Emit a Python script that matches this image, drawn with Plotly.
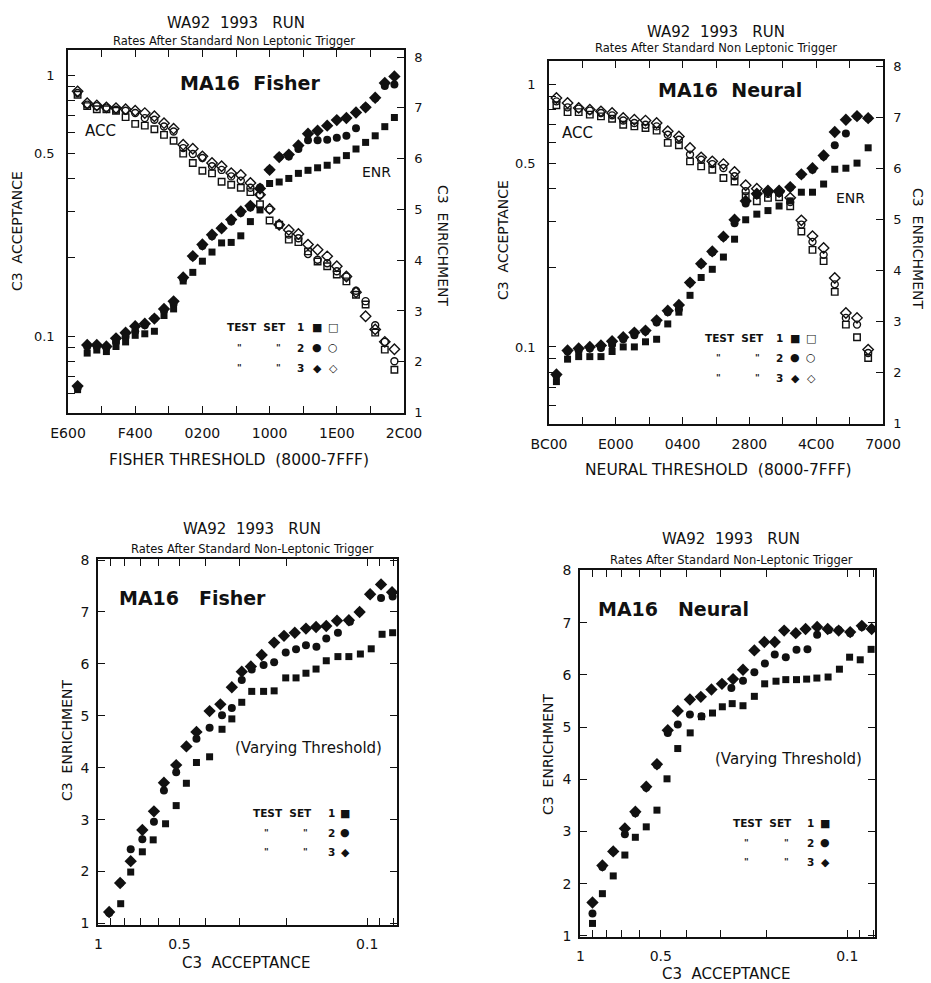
import plotly.graph_objects as go

W, H = 931, 983
FONT = "DejaVu Sans"
INK = "#111111"
NB = "\u00a0"

# ---------------- data: top-left (Fisher, vs threshold) ----------------
TL_THRESH = ["E800", "EA00", "EC00", "EE00", "F000", "F200", "F400", "F600", "F800", "FA00",
             "FC00", "FE00", "0000", "0200", "0400", "0600", "0800", "0A00", "0C00", "0E00",
             "1000", "1200", "1400", "1600", "1800", "1A00", "1C00", "1E00", "2000", "2200",
             "2400", "2600", "2800", "2A00"]
TL_ACC1 = [0.84, 0.76, 0.74, 0.74, 0.73, 0.69, 0.65, 0.64, 0.62, 0.59, 0.56, 0.50, 0.46, 0.43, 0.42,
           0.39, 0.38, 0.37, 0.356, 0.32, 0.277, 0.267, 0.234, 0.229, 0.211, 0.193, 0.185, 0.172,
           0.162, 0.144, 0.132, 0.103, 0.0887, 0.0743]
TL_ACC2 = [0.853, 0.77, 0.76, 0.75, 0.736, 0.73, 0.715, 0.684, 0.674, 0.635, 0.608, 0.525, 0.498,
           0.481, 0.447, 0.433, 0.409, 0.394, 0.37, 0.348, 0.305, 0.267, 0.245, 0.237, 0.206, 0.196,
           0.19, 0.177, 0.169, 0.149, 0.136, 0.110, 0.095, 0.080]
TL_ACC3 = [0.866, 0.78, 0.765, 0.752, 0.747, 0.74, 0.73, 0.715, 0.695, 0.654, 0.623, 0.541, 0.522,
           0.488, 0.46, 0.447, 0.421, 0.414, 0.386, 0.348, 0.307, 0.267, 0.255, 0.246, 0.224, 0.214,
           0.202, 0.185, 0.169, 0.147, 0.119, 0.106, 0.095, 0.089]
TL_ENR1 = [1.45, 2.17, 2.23, 2.20, 2.30, 2.39, 2.52, 2.55, 2.60, 2.91, 3.04, 3.59, 3.76, 3.98, 4.16,
           4.34, 4.35, 4.48, 4.76, 4.99, 5.51, 5.54, 5.61, 5.71, 5.77, 5.82, 5.87, 5.97, 6.06, 6.19,
           6.32, 6.45, 6.63, 6.81]
TL_ENR2 = [1.48, 2.30, 2.30, 2.28, 2.39, 2.49, 2.60, 2.72, 2.85, 3.01, 3.14, 3.63, 4.07, 4.28, 4.47,
           4.63, 4.76, 4.93, 5.04, 5.43, 5.78, 6.03, 6.04, 6.19, 6.36, 6.36, 6.37, 6.41, 6.45, 6.60,
           7.01, 7.19, 7.43, 7.46]
TL_ENR3 = [1.52, 2.33, 2.33, 2.30, 2.46, 2.57, 2.70, 2.75, 2.85, 3.04, 3.19, 3.66, 4.08, 4.31, 4.50,
           4.63, 4.80, 4.96, 5.07, 5.41, 5.78, 6.03, 6.08, 6.26, 6.49, 6.55, 6.65, 6.76, 6.80, 6.91,
           7.01, 7.20, 7.49, 7.62]

# ---------------- data: top-right (Neural, vs threshold) ----------------
TR_THRESH = ["C000", "C600", "CC00", "D200", "D800", "DE00", "E400", "EA00", "F000", "F600",
             "FC00", "0200", "0800", "0E00", "1400", "1A00", "2000", "2600", "2C00", "3200",
             "3800", "3E00", "4400", "4A00", "5000", "5600", "5C00", "6200", "6800"]
TR_ACC1 = [0.830, 0.782, 0.782, 0.765, 0.753, 0.738, 0.700, 0.690, 0.680, 0.665, 0.597, 0.585, 0.508,
           0.486, 0.472, 0.439, 0.426, 0.374, 0.358, 0.369, 0.371, 0.343, 0.275, 0.234, 0.212, 0.162,
           0.1216, 0.1088, 0.0908]
TR_ACC2 = [0.859, 0.815, 0.806, 0.792, 0.776, 0.760, 0.726, 0.711, 0.700, 0.690, 0.641, 0.614, 0.539,
           0.515, 0.496, 0.479, 0.446, 0.391, 0.379, 0.382, 0.385, 0.356, 0.292, 0.251, 0.224, 0.173,
           0.129, 0.1216, 0.0949]
TR_ACC3 = [0.885, 0.847, 0.811, 0.799, 0.787, 0.776, 0.743, 0.732, 0.726, 0.711, 0.661, 0.632, 0.571,
           0.526, 0.508, 0.496, 0.463, 0.412, 0.400, 0.393, 0.393, 0.369, 0.303, 0.264, 0.238, 0.183,
           0.1346, 0.129, 0.0977]
TR_ENR1 = [1.82, 2.26, 2.31, 2.31, 2.31, 2.41, 2.50, 2.50, 2.60, 2.65, 2.95, 3.18, 3.51, 3.86, 4.02,
           4.26, 4.61, 4.99, 5.10, 5.17, 5.26, 5.36, 5.53, 5.53, 5.69, 5.98, 6.00, 6.10, 6.40]
TR_ENR2 = [1.94, 2.41, 2.43, 2.47, 2.48, 2.54, 2.65, 2.73, 2.80, 2.98, 3.18, 3.24, 3.75, 4.12, 4.35,
           4.65, 4.92, 5.31, 5.49, 5.54, 5.52, 5.62, 5.87, 5.97, 6.23, 6.45, 6.68, 7.02, 6.98]
TR_ENR3 = [1.96, 2.43, 2.47, 2.50, 2.53, 2.61, 2.69, 2.78, 2.82, 3.02, 3.21, 3.32, 3.76, 4.13, 4.37,
           4.66, 4.99, 5.36, 5.50, 5.54, 5.54, 5.63, 5.88, 6.00, 6.25, 6.71, 6.95, 7.02, 6.98]

# ---------------- data: bottom-left (Fisher, enrichment vs acceptance) ----------------
BL_ACC1 = [0.827, 0.759, 0.687, 0.626, 0.563, 0.514, 0.471, 0.432, 0.386, 0.347, 0.319, 0.293, 0.269,
           0.243, 0.222, 0.201, 0.184, 0.169, 0.155, 0.142, 0.1285, 0.117, 0.106, 0.0966, 0.088, 0.0804]
BL_ENR1 = [1.38, 1.99, 2.38, 2.61, 2.92, 3.27, 3.70, 4.10, 4.21, 4.74, 4.94, 5.26, 5.47, 5.47, 5.48,
           5.73, 5.73, 5.82, 5.90, 6.06, 6.14, 6.14, 6.19, 6.29, 6.57, 6.60]
BL_ACC2 = [0.913, 0.831, 0.759, 0.687, 0.622, 0.571, 0.514, 0.432, 0.386, 0.347, 0.319, 0.293, 0.269,
           0.243, 0.222, 0.201, 0.184, 0.169, 0.1545, 0.142, 0.1285, 0.116, 0.1067, 0.0975, 0.0888, 0.0804]
BL_ENR2 = [1.20, 1.78, 2.43, 2.62, 2.96, 3.56, 3.91, 4.56, 4.77, 5.01, 5.15, 5.69, 5.89, 5.98, 6.03,
           6.22, 6.28, 6.36, 6.33, 6.49, 6.60, 6.81, 7.00, 7.34, 7.27, 7.30]
BL_ACC3 = [0.913, 0.831, 0.759, 0.687, 0.622, 0.571, 0.514, 0.471, 0.432, 0.386, 0.352, 0.319, 0.293,
           0.271, 0.247, 0.222, 0.204, 0.186, 0.169, 0.155, 0.142, 0.1295, 0.117, 0.1067, 0.0975, 0.0888, 0.0808]
BL_ENR3 = [1.22, 1.78, 2.20, 2.80, 3.16, 3.71, 4.05, 4.41, 4.69, 5.09, 5.22, 5.55, 5.85, 5.95, 6.17,
           6.41, 6.54, 6.60, 6.68, 6.71, 6.73, 6.83, 6.84, 7.00, 7.34, 7.53, 7.38]

# ---------------- data: bottom-right (Neural, enrichment vs acceptance) ----------------
BR_ACC1 = [0.902, 0.828, 0.754, 0.682, 0.623, 0.567, 0.517, 0.474, 0.432, 0.388, 0.352, 0.320, 0.294,
           0.270, 0.246, 0.223, 0.204, 0.185, 0.170, 0.155, 0.142, 0.130, 0.118, 0.107, 0.098, 0.0894, 0.0814]
BR_ENR1 = [1.24, 1.81, 2.15, 2.55, 2.89, 3.09, 3.41, 4.01, 4.59, 4.89, 5.20, 5.27, 5.39, 5.45, 5.41,
           5.59, 5.83, 5.88, 5.91, 5.91, 5.92, 5.94, 5.96, 6.11, 6.34, 6.29, 6.49]
BR_ACC2 = [0.902, 0.828, 0.754, 0.682, 0.623, 0.567, 0.517, 0.471, 0.432, 0.389, 0.352, 0.272, 0.246,
           0.223, 0.2036, 0.187, 0.170, 0.155, 0.141, 0.1297, 0.1173, 0.1077, 0.0975, 0.0882, 0.0810]
BR_ENR2 = [1.43, 2.32, 2.62, 2.95, 3.35, 3.84, 4.27, 4.89, 5.05, 5.24, 5.21, 5.75, 5.89, 6.05, 6.22,
           6.39, 6.34, 6.48, 6.49, 6.77, 6.86, 6.86, 6.80, 6.92, 6.88]
BR_ACC3 = [0.902, 0.828, 0.754, 0.682, 0.623, 0.567, 0.517, 0.471, 0.432, 0.389, 0.354, 0.323, 0.295,
           0.268, 0.246, 0.223, 0.2046, 0.187, 0.1724, 0.156, 0.1433, 0.1297, 0.1184, 0.1077, 0.0975, 0.0882, 0.0810]
BR_ENR3 = [1.64, 2.35, 2.62, 3.06, 3.38, 3.86, 4.29, 4.94, 5.31, 5.53, 5.58, 5.72, 5.83, 5.92, 6.10,
           6.47, 6.63, 6.63, 6.85, 6.80, 6.88, 6.92, 6.88, 6.85, 6.82, 6.94, 6.88]

# ---------------- tick labels ----------------
TL_XTICKS = ["E600", "ED00", "F400", "FB00", "0200", "0900", "1000", "1700", "1E00", "2500", "2C00"]
TL_XLABELS = ["E600", "", "F400", "", "0200", "", "1000", "", "1E00", "", "2C00"]
TR_XTICKS = ["BC00", "CE00", "E000", "F200", "0400", "1600", "2800", "3A00", "4C00", "5E00", "7000"]
TR_XLABELS = ["BC00", "", "E000", "", "0400", "", "2800", "", "4C00", "", "7000"]
ACC_TICKS = [1, 0.9, 0.8, 0.7, 0.6, 0.5, 0.4, 0.3, 0.2, 0.1, 0.09, 0.08, 0.07, 0.06]
ACC_LABELS = ["1", "", "", "", "", "0.5", "", "", "", "0.1", "", "", "", ""]
ENR_TICKS = [1, 2, 3, 4, 5, 6, 7, 8]
ENR_LABELS = ["1", "2", "3", "4", "5", "6", "7", "8"]


def hx(h):
    v = int(h, 16)
    return v - 0x10000 if v >= 0x8000 else v


def dom_x(a, b):
    return [a / W, b / W]


def dom_y(top, bottom):
    return [1 - bottom / H, 1 - top / H]


AX = dict(showline=True, linecolor=INK, linewidth=1.5, ticks="inside", ticklen=7, tickwidth=1.3,
          tickcolor=INK, showgrid=False, zeroline=False, automargin=False,
          tickfont=dict(family=FONT, size=14, color=INK))

fig = go.Figure()

SYM = [("square", 7), ("circle", 8), ("diamond", 9.5)]
OSYM = [("square-open", 6.5), ("circle-open", 7), ("diamond-open", 8)]


def add_filled(xs, ys, k, xa, ya):
    s, sz = SYM[k]
    fig.add_trace(go.Scatter(x=xs, y=ys, mode="markers", xaxis=xa, yaxis=ya,
                             marker=dict(symbol=s, size=sz, color=INK, line=dict(width=0)),
                             showlegend=False, hoverinfo="skip"))


def add_open(xs, ys, k, xa, ya):
    s, sz = OSYM[k]
    fig.add_trace(go.Scatter(x=xs, y=ys, mode="markers", xaxis=xa, yaxis=ya,
                             marker=dict(symbol=s, size=sz, color=INK, line=dict(width=1.4, color=INK)),
                             showlegend=False, hoverinfo="skip"))


tlx = [hx(h) for h in TL_THRESH]
trx = [hx(h) for h in TR_THRESH]
for k, (a, e) in enumerate([(TL_ACC1, TL_ENR1), (TL_ACC2, TL_ENR2), (TL_ACC3, TL_ENR3)]):
    add_open(tlx, a, k, "x", "y")
    add_filled(tlx, e, k, "x", "y2")
for k, (a, e) in enumerate([(TR_ACC1, TR_ENR1), (TR_ACC2, TR_ENR2), (TR_ACC3, TR_ENR3)]):
    add_open(trx, a, k, "x2", "y3")
    add_filled(trx, e, k, "x2", "y4")
for k, (a, e) in enumerate([(BL_ACC1, BL_ENR1), (BL_ACC2, BL_ENR2), (BL_ACC3, BL_ENR3)]):
    add_filled(a, e, k, "x3", "y5")
for k, (a, e) in enumerate([(BR_ACC1, BR_ENR1), (BR_ACC2, BR_ENR2), (BR_ACC3, BR_ENR3)]):
    add_filled(a, e, k, "x4", "y6")

SMALL = dict(family=FONT, size=13, color=INK)

layout = dict(
    template="none",
    width=W, height=H, margin=dict(l=0, r=0, t=0, b=0, pad=0),
    paper_bgcolor="white", plot_bgcolor="rgba(0,0,0,0)", showlegend=False,
    xaxis=dict(AX, domain=dom_x(68, 404), anchor="y", range=[hx("E600"), hx("2C00")],
               tickvals=[hx(h) for h in TL_XTICKS], ticktext=TL_XLABELS, mirror="ticks",
               ticklabelstandoff=6),
    yaxis=dict(AX, domain=dom_y(50, 413), anchor="x", type="log", range=[-1.295, 0.096],
               tickvals=ACC_TICKS, ticktext=ACC_LABELS, tickfont=SMALL, ticklabelstandoff=9),
    yaxis2=dict(AX, overlaying="y", side="right", anchor="x", range=[0.99, 8.14],
                tickvals=ENR_TICKS, ticktext=ENR_LABELS, tickfont=SMALL, ticklabelstandoff=6),
    xaxis2=dict(AX, domain=dom_x(549, 883), anchor="y3", range=[hx("BC00"), hx("7000")],
                tickvals=[hx(h) for h in TR_XTICKS], ticktext=TR_XLABELS, mirror="ticks",
                ticklabelstandoff=6),
    yaxis3=dict(AX, domain=dom_y(61, 424), anchor="x2", type="log", range=[-1.293, 0.0875],
                tickvals=ACC_TICKS, ticktext=ACC_LABELS, tickfont=SMALL, ticklabelstandoff=9),
    yaxis4=dict(AX, overlaying="y3", side="right", anchor="x2", range=[0.99, 8.1],
                tickvals=ENR_TICKS, ticktext=ENR_LABELS, tickfont=SMALL, ticklabelstandoff=6),
    xaxis3=dict(AX, domain=dom_x(98, 397), anchor="y5", type="log", range=[0.002, -1.111],
                tickvals=ACC_TICKS[:12], ticktext=ACC_LABELS[:12], mirror="ticks",
                ticklabelstandoff=5),
    yaxis5=dict(AX, domain=dom_y(559, 925), anchor="x3", range=[0.97, 8.02],
                tickvals=ENR_TICKS, ticktext=ENR_LABELS, mirror="ticks", ticklabelstandoff=4),
    xaxis4=dict(AX, domain=dom_x(580, 875), anchor="y6", type="log", range=[0.002, -1.104],
                tickvals=ACC_TICKS[:12], ticktext=ACC_LABELS[:12], mirror="ticks",
                ticklabelstandoff=5),
    yaxis6=dict(AX, domain=dom_y(570, 937), anchor="x4", range=[0.98, 8.01],
                tickvals=ENR_TICKS, ticktext=ENR_LABELS, mirror="ticks", ticklabelstandoff=4),
)

ann = []


def note(text, x, y, size, bold=False, angle=0, xanchor="center", family=FONT):
    t = "<b>" + text + "</b>" if bold else text
    ann.append(dict(text=t, x=x / W, y=1 - y / H, xref="paper", yref="paper", showarrow=False,
                    font=dict(family=family, size=size, color=INK), textangle=angle,
                    xanchor=xanchor, yanchor="middle", borderpad=0))


def sp(n):
    return NB * n


TITLE = "WA92" + sp(2) + "1993" + sp(3) + "RUN"
SUB1 = "Rates After Standard Non Leptonic Trigger"
SUB2 = "Rates After Standard Non-Leptonic Trigger"

# top-left
note(TITLE, 236, 23, 15)
note(SUB1, 234, 41, 11.5)
note("MA16" + sp(2) + "Fisher", 250, 83, 19, bold=True)
note("ACC", 100, 131, 15)
note("ENR", 376, 172, 14)
note("C3" + sp(2) + "ACCEPTANCE", 17, 231, 14, angle=-90)
note("C3" + sp(2) + "ENRICHMENT", 443, 245, 14, angle=90)
note("FISHER THRESHOLD" + sp(2) + "(8000-7FFF)", 239, 460, 15.5)

# top-right
note(TITLE, 716, 32, 15)
note(SUB1, 716, 48, 11.5)
note("MA16" + sp(2) + "Neural", 730, 90, 19, bold=True)
note("ACC", 577, 133, 15)
note("ENR", 850, 198, 14)
note("C3" + sp(2) + "ACCEPTANCE", 503, 240, 14, angle=-90)
note("C3" + sp(2) + "ENRICHMENT", 918, 248, 14, angle=90)
note("NEURAL THRESHOLD" + sp(2) + "(8000-7FFF)", 718, 470, 15.5)

# bottom-left
note(TITLE, 252, 529, 15)
note(SUB2, 252, 549, 11.5)
note("MA16" + sp(3) + "Fisher", 192, 598, 19, bold=True)
note("(Varying Threshold)", 308, 748, 15)
note("C3" + sp(2) + "ACCEPTANCE", 246, 963, 15)
note("C3" + sp(2) + "ENRICHMENT", 67, 741, 14, angle=-90)

# bottom-right
note(TITLE, 731, 539, 15)
note(SUB2, 731, 560, 11.5)
note("MA16" + sp(3) + "Neural", 673, 609, 19, bold=True)
note("(Varying Threshold)", 788, 759, 15)
note("C3" + sp(2) + "ACCEPTANCE", 726, 974, 15)
note("C3" + sp(2) + "ENRICHMENT", 548, 755, 14, angle=-90)

# legends (text + glyph keys)
LEG_SIZE = 10.5
GLYPH = 11


def legend_block(x_label, x_d1, x_d2, x_num, x_g1, x_g2, y0, dy):
    note("TEST" + sp(2) + "SET", x_label, y0, LEG_SIZE, bold=True)
    rows = [("1", "\u25A0", "\u25A1"), ("2", "\u25CF", "\u25CB"), ("3", "\u25C6", "\u25C7")]
    for i, (num, g1, g2) in enumerate(rows):
        yy = y0 + i * dy
        if i > 0:
            note("\"", x_d1, yy, 9, bold=True)
            note("\"", x_d2, yy, 9, bold=True)
        note(num, x_num, yy, LEG_SIZE, bold=True)
        note(g1, x_g1, yy, GLYPH)
        if x_g2 is not None:
            note(g2, x_g2, yy, GLYPH)


legend_block(256, 239, 278, 300, 317, 333, 327, 20.5)
legend_block(734, 718, 757, 779, 795, 811, 338, 20)
legend_block(282, 266, 305, 331, 345, None, 813, 19.5)
legend_block(762, 746, 786, 810, 825, None, 823, 19.5)

layout["annotations"] = ann
fig.update_layout(**layout)

fig.write_html("out.html", config={"displayModeBar": False},
               post_script="document.body.style.margin='0';")
